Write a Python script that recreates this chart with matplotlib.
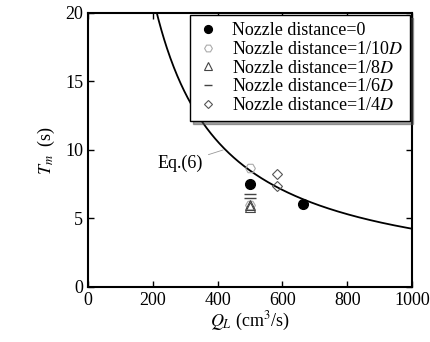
import numpy as np
import matplotlib
matplotlib.use("Agg")
import matplotlib.pyplot as plt

plt.rcParams['font.family'] = ['Liberation Serif', 'DejaVu Serif']
plt.rcParams['mathtext.fontset'] = 'stix'

# Data
q_d0 = [500, 663]
t_d0 = [7.5, 6.05]
q_d10 = [500, 500]
t_d10 = [8.7, 6.0]
q_d8 = [500, 500]
t_d8 = [6.0, 5.8]
q_d6 = [500, 500]
t_d6 = [6.75, 6.5]
q_d4 = [583, 583]
t_d4 = [8.25, 7.35]
eq_const = 4250.0
q_curve = np.linspace(150, 1000, 400)
t_curve = eq_const / q_curve

fig = plt.figure(figsize=(4.31, 3.42), dpi=100)
ax = fig.add_axes([0.204, 0.161, 0.752, 0.801])

ax.plot(q_curve, t_curve, color='black', lw=1.3, zorder=2)
ax.plot(q_d0, t_d0, 'o', ms=7, color='black', ls='none', label='Nozzle distance=0', zorder=3)
ax.plot(q_d10, t_d10, 'H', ms=7, mfc='none', mec='#aaaaaa', mew=0.8, ls='none', label='Nozzle distance=1/10$D$')
ax.plot(q_d8, t_d8, '^', ms=7, mfc='none', mec='#444444', mew=0.8, ls='none', label='Nozzle distance=1/8$D$')
ax.plot(q_d6, t_d6, '_', ms=8, color='#444444', mew=1.0, ls='none', label='Nozzle distance=1/6$D$')
ax.plot(q_d4, t_d4, 'D', ms=5.5, mfc='none', mec='#555555', mew=0.8, ls='none', label='Nozzle distance=1/4$D$')

ax.annotate('Eq.(6)', xy=(417, 10.0), xytext=(355, 9.0), fontsize=13,
            ha='right', va='center',
            arrowprops=dict(arrowstyle='-', color='#999999', lw=0.6, shrinkA=2, shrinkB=0))

ax.set_xlim(0, 1000)
ax.set_ylim(0, 20)
ax.set_xticks([0, 200, 400, 600, 800, 1000])
ax.set_yticks([0, 5, 10, 15, 20])
ax.tick_params(direction='in', top=True, right=True, labelsize=13, length=4, width=1)
for s in ax.spines.values():
    s.set_linewidth(1.5)

ax.set_xlabel('$Q_L$ (cm$^3$/s)', fontsize=13, labelpad=1)
ax.set_ylabel('$T_m$  (s)', fontsize=13, labelpad=6)

leg = ax.legend(loc='upper right', fontsize=13, frameon=True, fancybox=False, shadow=True,
                handlelength=1.2, handletextpad=0.7, borderpad=0.4, labelspacing=0.1,
                borderaxespad=0.1, markerscale=0.8)
leg.get_frame().set_edgecolor('black')
leg.get_frame().set_linewidth(1.0)

fig.savefig('out.png', dpi=100)
